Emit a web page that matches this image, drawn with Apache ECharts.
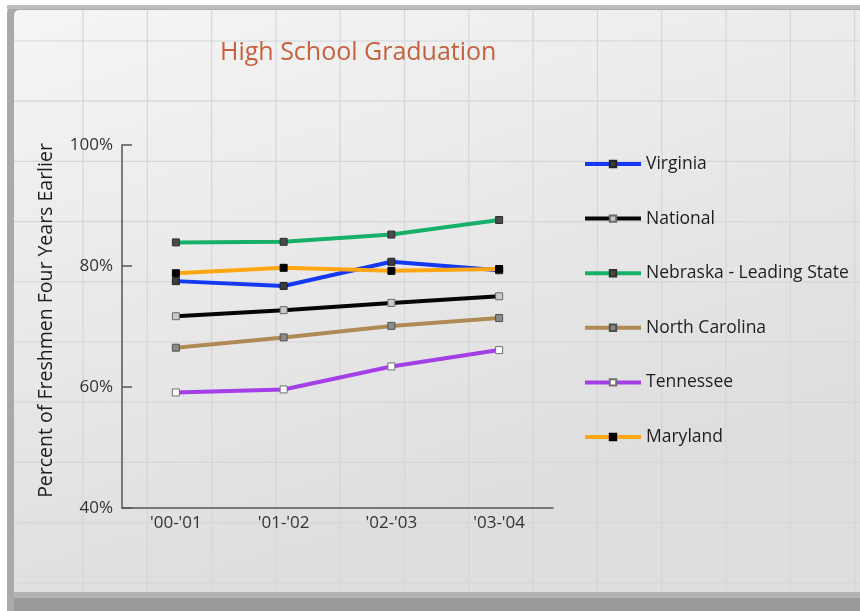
<!DOCTYPE html>
<html>
<head>
<meta charset="utf-8">
<script src="https://cdn.jsdelivr.net/npm/echarts@6/dist/echarts.min.js"></script>
<style>
  html, body { margin: 0; padding: 0; background: #ffffff; }
  #chart { width: 860px; height: 611px; }
</style>
</head>
<body>
<div id="chart"></div>
<script>
// School years on the category axis
const years = ["'00-'01", "'01-'02", "'02-'03", "'03-'04"];

// Graduation rates (percent of freshmen four years earlier)
const virginia   = [77.5, 76.7, 80.7, 79.3];
const national   = [71.7, 72.7, 73.9, 75.0];
const nebraska   = [83.9, 84.0, 85.2, 87.6];
const ncarolina  = [66.5, 68.2, 70.1, 71.4];
const tennessee  = [59.1, 59.6, 63.4, 66.1];
const maryland   = [78.8, 79.7, 79.2, 79.5];

// Value axis ticks
const yTicks = [40, 60, 80, 100];

const FONT = '"Open Sans", "Noto Sans", sans-serif';
const W = 860, H = 611;

function line(name, data, color, fill, border) {
  return {
    name: name,
    type: 'line',
    data: data,
    symbol: 'rect',
    symbolSize: 7,
    lineStyle: { color: color, width: 4 },
    itemStyle: { color: fill, borderColor: border, borderWidth: 1 },
    emphasis: { disabled: true },
    z: 3
  };
}

// Panel frame and background grid
const bg = [];
bg.push({ type: 'rect', shape: { x: 7, y: 5, width: W, height: H, r: [8, 0, 0, 0] },
  style: { fill: '#a9a9a9' }, z: -10, silent: true });
bg.push({ type: 'rect', shape: { x: 14, y: 10, width: W, height: 582, r: [5, 0, 0, 0] },
  style: { fill: { type: 'linear', x: 0, y: 0, x2: 0.2, y2: 1,
    colorStops: [{ offset: 0, color: '#f5f5f6' }, { offset: 1, color: '#dedede' }] } },
  z: -9, silent: true });
bg.push({ type: 'rect', shape: { x: 7, y: 5, width: W, height: 4 },
  style: { fill: '#bdbdbd' }, z: -9, silent: true });
bg.push({ type: 'rect', shape: { x: 14, y: 592, width: W, height: 6 },
  style: { fill: '#b3b3b3' }, z: -8, silent: true });
bg.push({ type: 'rect', shape: { x: 14, y: 598, width: W, height: 13 },
  style: { fill: '#9a9a9a' }, z: -8, silent: true });
for (let x = 83; x < W; x += 64.3) {
  bg.push({ type: 'line', shape: { x1: x, y1: 10, x2: x, y2: 592 },
    style: { stroke: '#d5d6d9', lineWidth: 1.2 }, z: -7, silent: true });
}
for (let y = 41; y < 592; y += 60.2) {
  bg.push({ type: 'line', shape: { x1: 14, y1: y, x2: W, y2: y },
    style: { stroke: '#d5d6d9', lineWidth: 1.2 }, z: -7, silent: true });
}

const chart = echarts.init(document.getElementById('chart'), null, { renderer: 'canvas' });
chart.setOption({
  backgroundColor: 'transparent',
  animation: false,
  graphic: bg,
  title: {
    text: 'High School Graduation',
    left: 220, top: 40, padding: 0,
    textStyle: { color: '#c5623d', fontSize: 25, fontWeight: 'normal', fontFamily: FONT }
  },
  legend: {
    orient: 'vertical',
    left: 583, top: 155, padding: 0,
    itemWidth: 56, itemHeight: 8, itemGap: 36.6,
    lineStyle: { width: 4 },
    textStyle: { fontSize: 17.5, color: '#1e1e1e', fontFamily: FONT },
    data: ['Virginia', 'National', 'Nebraska - Leading State', 'North Carolina', 'Tennessee', 'Maryland']
  },
  grid: { left: 122, right: 307, top: 145, bottom: 103 },
  xAxis: {
    type: 'category',
    data: years,
    boundaryGap: true,
    axisLine: { lineStyle: { color: '#555', width: 1.5 } },
    axisTick: { inside: true, length: 9, lineStyle: { color: '#555', width: 1.5 } },
    axisLabel: { color: '#333', fontSize: 17, fontFamily: FONT, margin: 7 },
    splitLine: { show: false }
  },
  yAxis: {
    type: 'value',
    min: yTicks[0], max: yTicks[yTicks.length - 1], interval: 20,
    axisLine: { show: true, lineStyle: { color: '#555', width: 1.5 } },
    axisTick: { show: true, inside: true, length: 10, lineStyle: { color: '#555', width: 1.5 } },
    axisLabel: { color: '#333', fontSize: 17, fontFamily: FONT, margin: 9,
      formatter: v => v + '%' },
    splitLine: { show: false },
    name: 'Percent of Freshmen Four Years Earlier',
    nameLocation: 'middle', nameGap: 66, nameRotate: 90,
    nameTextStyle: { color: '#1e1e1e', fontSize: 19.5, fontFamily: FONT, padding: [0, 0, 0, 12] }
  },
  series: [
    line('Virginia', virginia, '#1538f2', '#3c3c3c', '#222'),
    line('National', national, '#050505', '#c9c9c9', '#6a6a6a'),
    line('Nebraska - Leading State', nebraska, '#17b069', '#4a4a4a', '#2e2e2e'),
    line('North Carolina', ncarolina, '#b08a55', '#8a8a8a', '#505050'),
    line('Tennessee', tennessee, '#a43ee6', '#ffffff', '#707070'),
    line('Maryland', maryland, '#ffa614', '#000000', '#000000')
  ]
});
</script>
</body>
</html>
